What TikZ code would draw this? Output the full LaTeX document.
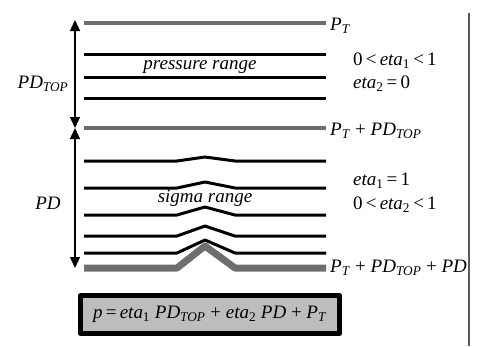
\documentclass[tikz,border=0pt]{standalone}
\usepackage{amsmath}
\usepackage{fontspec}
\setmainfont{Liberation Serif}
\usetikzlibrary{arrows.meta,positioning}
\definecolor{clev}{HTML}{6E6E6E}
\definecolor{cbox}{HTML}{BDBDBD}
\newcommand{\lsub}[1]{$_{\text{#1}}$}
\tikzset{
  lev/.style={line width=3pt, draw=black},
  bnd/.style={line width=4.5pt, draw=clev},
  lbl/.style={inner sep=0pt, anchor=west, font=\fontsize{19}{21}\selectfont},
  rng/.style={inner sep=0pt, font=\fontsize{19}{21}\selectfont\itshape},
  span/.style={{Triangle[length=11pt,width=10pt]}-{Triangle[length=11pt,width=10pt]}, line width=1.3pt},
}
\begin{document}
\begin{tikzpicture}[x=1pt, y=-1pt, line join=round]
\useasboundingbox (0,0) rectangle (480,346);
% frame line on the right
\draw[line width=1.2pt, draw=black!65] (469,13) -- (469,346);
% pressure levels
\draw[bnd] (84,23) -- (326,23);
\foreach \y in {54,77,98}
  \draw[lev] (84,\y) -- (326,\y);
\draw[bnd] (84,128) -- (326,128);
% sigma levels
\foreach \y/\h in {161/4, 188/6, 215/8, 236/10, 253/13}
  \draw[lev] (84,\y) -- (177,\y) -- (205,\y-\h) -- (235,\y) -- (326,\y);
\draw[bnd, line width=7pt] (84,268) -- (177,268) -- (205,246) -- (235,268) -- (326,268);
% spans
\coordinate (top) at (75,20);
\coordinate (mid) at (75,128);
\coordinate (bot) at (75,268);
\draw[span] (top) -- (mid);
\draw[span] (mid) -- (bot);
\node[rng] (pdtop) at (43,84) {PD\lsub{TOP}};
\node[rng] (pd) at (48,203) {PD};
\node[rng] (prange) at (200,67) {pressure range};
\node[rng] (srange) at (205,198) {sigma range};
% right labels
\node[lbl] (pt) at (330,26) {\textit{P}\lsub{\textit{T}}};
\node[lbl] (e1a) at (353,61) {0\,<\,\textit{eta}\lsub{1}\,<\,1};
\node[lbl] (e2a) at (353,84) {\textit{eta}\lsub{2}\,=\,0};
\node[lbl] (ptpd) at (330,131) {\textit{P}\lsub{\textit{T}} + \textit{PD}\lsub{\textit{TOP}}};
\node[lbl] (e1b) at (353,181) {\textit{eta}\lsub{1}\,=\,1};
\node[lbl] (e2b) at (353,205) {0\,<\,\textit{eta}\lsub{2}\,<\,1};
\node[lbl] (ptall) at (330,268) {\textit{P}\lsub{\textit{T}} + \textit{PD}\lsub{\textit{TOP}} + \textit{PD}};
% formula
\node[draw=black, line width=5pt, fill=cbox, minimum width=259pt, minimum height=38pt, inner sep=0pt,
  font=\fontsize{19}{21}\selectfont] (eq) at (210,314.5)
  {\textit{p}\,=\,\textit{eta}\lsub{1} \textit{PD}\lsub{\textit{TOP}} + \textit{eta}\lsub{2} \textit{PD} + \textit{P}\lsub{\textit{T}}};
\end{tikzpicture}
\end{document}
